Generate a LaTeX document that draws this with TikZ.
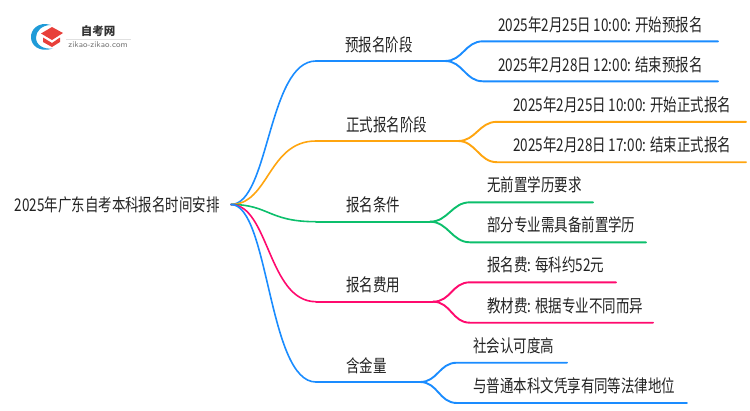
\documentclass[tikz,border=0pt]{standalone}
\usepackage{xcolor}
\usepackage{fontspec}
\usepackage{tikz}
\usetikzlibrary{calc}
\usetikzlibrary{positioning}
\newfontfamily\cjk[FakeStretch=0.77]{Noto Sans CJK SC}
\newfontfamily\cjklogo{Noto Sans CJK SC}
\definecolor{lineblue}{HTML}{1A8CFF}
\definecolor{lineorange}{HTML}{FFA50F}
\definecolor{linegreen}{HTML}{0CBF6C}
\definecolor{linepink}{HTML}{FF0A6E}
\definecolor{textdark}{HTML}{222222}
\definecolor{logoblue}{HTML}{1F9BD8}
\definecolor{logored}{HTML}{E8403A}
\tikzset{
  label/.style = {anchor=west, inner sep=0pt, text=textdark, font=\cjk\fontsize{17.5}{19}\selectfont},
  trunk/.style = {line width=1.6pt, line cap=round},
  twig/.style = {line width=1.9pt, line cap=round},
}

\begin{document}
\begin{tikzpicture}[x=1pt, y=-1pt]
\useasboundingbox (0,0) rectangle (750,410);
% logo
\fill [logoblue] (51,25) .. controls (38,21) and (30.5,30) .. (31,37.5) .. controls (31,45) and (39,53) .. (53,48.5) .. controls (43,49.5) and (36,45) .. (36,37.5) .. controls (36,31) and (42,25) .. (51,25) -- cycle;
\fill [logored] (41,33.5) -- (52,27) -- (63,33) -- (52,40) -- cycle;
\fill [logored] (43,37.5) -- (52,43) -- (60,37.5) -- (60,42) -- (52,47) -- (43,42) -- cycle;
\node [inner sep=0pt, text=black!80, font=\cjklogo\bfseries\fontsize{11.5}{13}\selectfont] (logoname) at (98,31) {自考网};
\node [inner sep=0pt, text=black!55, font=\sffamily\fontsize{8.4}{10}\selectfont] (logourl) at (98,45) {zikao-zikao.com};
\draw [black!12, line width=0.6pt] (66,39) -- (131,39);

% root
\node [label, anchor=east, inner xsep=11pt] (root) at (231,204.5) {2025年广东自考本科报名时间安排};

% first level
\coordinate (pre) at (316,61);
\coordinate (preEnd) at (445,61);
\coordinate (formal) at (316,141);
\coordinate (formalEnd) at (458,141);
\coordinate (cond) at (316,221.7);
\coordinate (condEnd) at (430,221.7);
\coordinate (fee) at (316,301.7);
\coordinate (feeEnd) at (433,301.7);
\coordinate (value) at (316,382);
\coordinate (valueEnd) at (420,382);
\node [label] (preT) at (345,44.5) {预报名阶段};
\node [label] (formalT) at (346,125) {正式报名阶段};
\node [label] (condT) at (346,205) {报名条件};
\node [label] (feeT) at (346,285) {报名费用};
\node [label] (valueT) at (346,366) {含金量};

% second level
\node [label] (preA) at (498,25) {2025年2月25日 10:00: 开始预报名};
\node [label] (preB) at (498,65) {2025年2月28日 12:00: 结束预报名};
\node [label] (formalA) at (513,105) {2025年2月25日 10:00: 开始正式报名};
\node [label] (formalB) at (513,145) {2025年2月28日 17:00: 结束正式报名};
\node [label] (condA) at (487,185) {无前置学历要求};
\node [label] (condB) at (487,225) {部分专业需具备前置学历};
\node [label] (feeA) at (487,265) {报名费: 每科约52元};
\node [label] (feeB) at (487,305.5) {教材费: 根据专业不同而异};
\node [label] (valueA) at (473,345.5) {社会认可度高};
\node [label] (valueB) at (473,385.5) {与普通本科文凭享有同等法律地位};

\coordinate (preA1) at (483,41.3);
\coordinate (preA2) at (718,41.3);
\coordinate (preB1) at (483,81.3);
\coordinate (preB2) at (718,81.3);
\coordinate (formalA1) at (497,121.8);
\coordinate (formalA2) at (746,121.8);
\coordinate (formalB1) at (497,162.2);
\coordinate (formalB2) at (746,162.2);
\coordinate (condA1) at (470,202.3);
\coordinate (condA2) at (593,202.3);
\coordinate (condB1) at (470,242.3);
\coordinate (condB2) at (646,242.3);
\coordinate (feeA1) at (470,282.3);
\coordinate (feeA2) at (616,282.3);
\coordinate (feeB1) at (470,322.7);
\coordinate (feeB2) at (653,322.7);
\coordinate (valueA1) at (457,362.7);
\coordinate (valueA2) at (567,362.7);
\coordinate (valueB1) at (457,403);
\coordinate (valueB2) at (687,403);

\draw [trunk, lineblue] (root.east) .. controls +(38,0) and +(-48,0) .. (pre);
\draw [twig, lineblue] (pre) -- (preEnd);
\draw [trunk, lineorange] (root.east) .. controls +(38,0) and +(-48,0) .. (formal);
\draw [twig, lineorange] (formal) -- (formalEnd);
\draw [trunk, linegreen] (root.east) .. controls +(38,0) and +(-48,0) .. (cond);
\draw [twig, linegreen] (cond) -- (condEnd);
\draw [trunk, linepink] (root.east) .. controls +(38,0) and +(-48,0) .. (fee);
\draw [twig, linepink] (fee) -- (feeEnd);
\draw [trunk, lineblue] (root.east) .. controls +(38,0) and +(-48,0) .. (value);
\draw [twig, lineblue] (value) -- (valueEnd);

\draw [twig, lineblue] (preEnd) .. controls +(18,0) and +(-18,0) .. (preA1) -- (preA2);
\draw [twig, lineblue] (preEnd) .. controls +(18,0) and +(-18,0) .. (preB1) -- (preB2);
\draw [twig, lineorange] (formalEnd) .. controls +(18,0) and +(-18,0) .. (formalA1) -- (formalA2);
\draw [twig, lineorange] (formalEnd) .. controls +(18,0) and +(-18,0) .. (formalB1) -- (formalB2);
\draw [twig, linegreen] (condEnd) .. controls +(18,0) and +(-18,0) .. (condA1) -- (condA2);
\draw [twig, linegreen] (condEnd) .. controls +(18,0) and +(-18,0) .. (condB1) -- (condB2);
\draw [twig, linepink] (feeEnd) .. controls +(18,0) and +(-18,0) .. (feeA1) -- (feeA2);
\draw [twig, linepink] (feeEnd) .. controls +(18,0) and +(-18,0) .. (feeB1) -- (feeB2);
\draw [twig, lineblue] (valueEnd) .. controls +(18,0) and +(-18,0) .. (valueA1) -- (valueA2);
\draw [twig, lineblue] (valueEnd) .. controls +(18,0) and +(-18,0) .. (valueB1) -- (valueB2);
\end{tikzpicture}
\end{document}
